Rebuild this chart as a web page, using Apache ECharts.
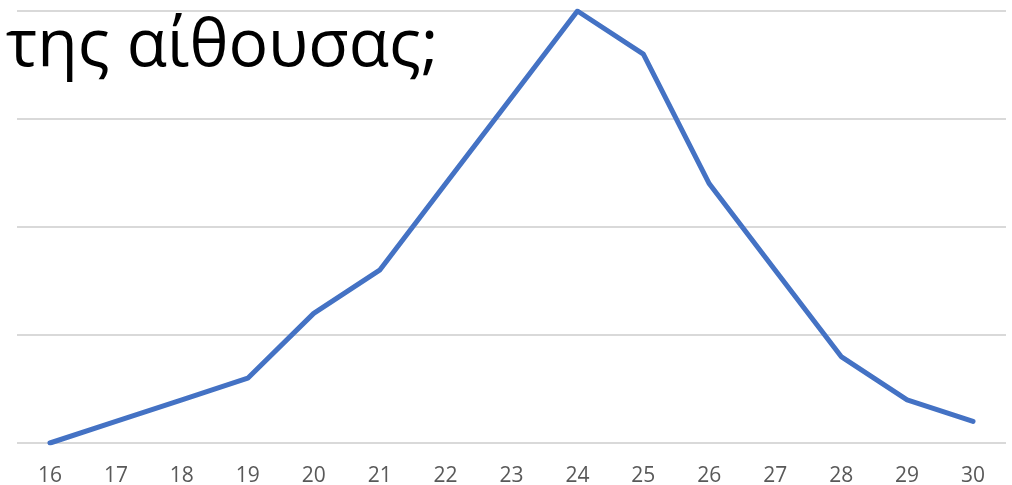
<!DOCTYPE html>
<html>
<head>
<meta charset="utf-8">
<script src="https://cdn.jsdelivr.net/npm/echarts@6/dist/echarts.min.js"></script>
<style>html,body{margin:0;padding:0;background:#fff}#c{width:1012px;height:485px}</style>
</head>
<body>
<div id="c"></div>
<script>
const titleText = 'της αίθουσας;';
const categories = ['16','17','18','19','20','21','22','23','24','25','26','27','28','29','30'];
const values = [0, 1, 2, 3, 6, 8, 12, 16, 20, 18, 12, 8, 4, 2, 1];

const chart = echarts.init(document.getElementById('c'), null, {renderer: 'canvas'});
chart.setOption({
  animation: false,
  backgroundColor: '#ffffff',
  title: {
    text: titleText,
    left: 1,
    top: 9,
    textStyle: {fontFamily: 'Open Sans', fontSize: 66, fontWeight: 'normal', color: '#000000'}
  },
  grid: {left: 17, right: 6, top: 11, bottom: 42, containLabel: false, outerBoundsMode: 'none'},
  xAxis: {
    type: 'category',
    data: categories,
    boundaryGap: true,
    axisLine: {show: false},
    axisTick: {show: false},
    axisLabel: {color: '#595959', fontFamily: 'Open Sans', fontSize: 21, margin: 23}
  },
  yAxis: {
    type: 'value',
    min: 0, max: 20, interval: 5,
    axisLabel: {show: false},
    axisLine: {show: false},
    axisTick: {show: false},
    splitLine: {lineStyle: {color: '#d9d9d9', width: 2}}
  },
  series: [{
    type: 'line',
    data: values,
    showSymbol: false,
    lineStyle: {color: '#4472C4', width: 5, cap: 'round', join: 'round'},
    z: 3
  }]
});
</script>
</body>
</html>
